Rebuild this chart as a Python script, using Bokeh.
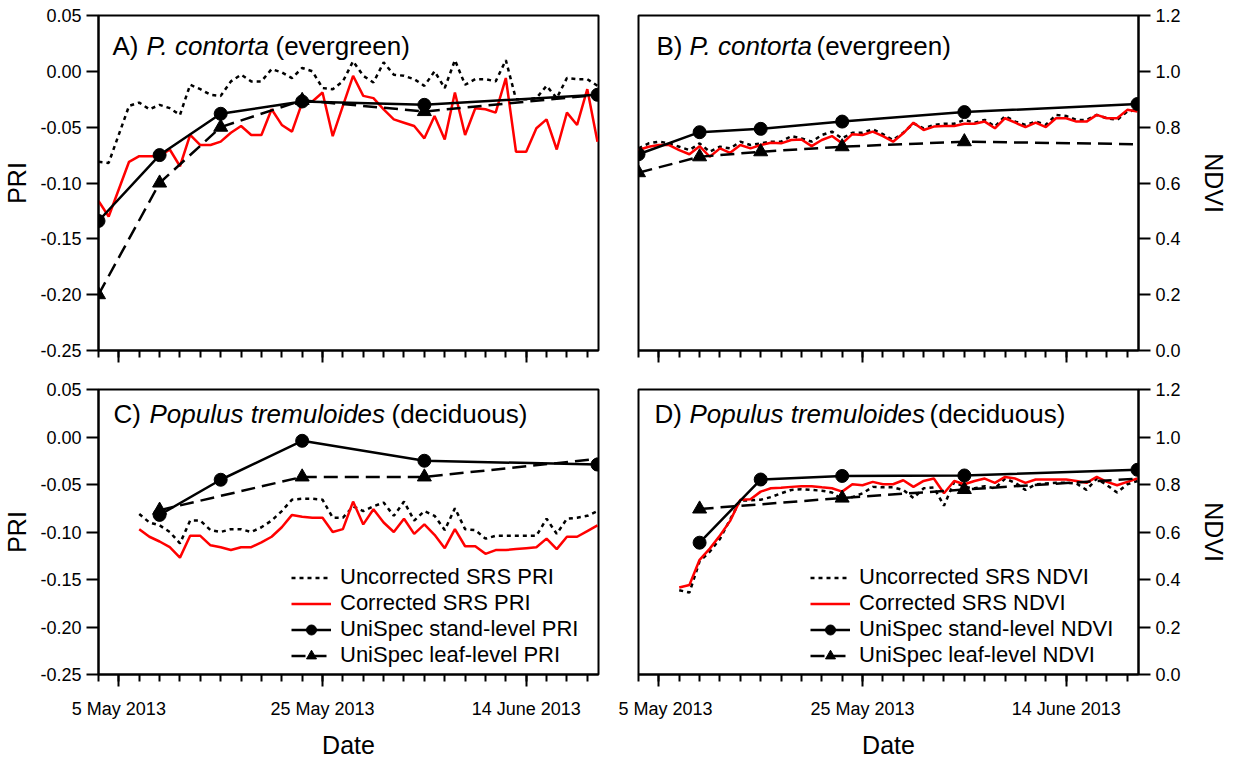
from bokeh.plotting import figure
from bokeh.models import (LinearAxis, FixedTicker, PrintfTickFormatter, Range1d,
                          Label, Legend, LegendItem)
from bokeh.layouts import column, row
from bokeh.embed import file_html
from bokeh.resources import INLINE

FONT = "Liberation Sans"

# ---------------- data (x = days after 3 May 2013) ----------------
TICK_DAYS = [2, 22, 42]
TICK_LABELS = ["5 May 2013", "25 May 2013", "14 June 2013"]
MINOR_DAYS = [0, 2, 4, 6, 8, 10, 12, 14, 16, 18, 20, 22, 24, 26, 28, 30, 32, 34,
              36, 38, 40, 42, 44, 46, 48]
PRI_TICKS = [-0.25, -0.20, -0.15, -0.10, -0.05, 0.00, 0.05]
NDVI_TICKS = [0.0, 0.2, 0.4, 0.6, 0.8, 1.0, 1.2]

# Panel A: P. contorta PRI
A_srs_days = [0, 1, 3, 4, 5, 6, 7, 8, 9, 10, 11, 12, 13, 14, 15, 16, 17, 18, 19, 20,
              21, 22, 23, 24, 25, 26, 27, 28, 29, 30, 31, 32, 33, 34, 35, 36, 37, 38,
              39, 40, 41, 42, 43, 44, 45, 46, 47, 48, 49]
A_uncorr = [-0.081, -0.082, -0.031, -0.028, -0.034, -0.030, -0.033, -0.039, -0.012,
            -0.016, -0.021, -0.022, -0.009, -0.003, -0.009, -0.009, 0.002, -0.001,
            -0.006, 0.003, 0.000, -0.015, -0.016, -0.009, 0.009, -0.004, -0.010,
            0.008, -0.003, -0.004, -0.007, -0.013, 0.000, -0.015, 0.010, -0.012,
            -0.007, -0.007, -0.009, 0.010, -0.025, -0.025, -0.024, -0.013, -0.024,
            -0.006, -0.007, -0.007, -0.013]
A_corr = [-0.116, -0.130, -0.081, -0.076, -0.076, -0.076, -0.070, -0.085, -0.057,
          -0.066, -0.066, -0.063, -0.055, -0.049, -0.057, -0.057, -0.034, -0.048,
          -0.054, -0.028, -0.027, -0.019, -0.058, -0.031, -0.004, -0.022, -0.024,
          -0.034, -0.043, -0.046, -0.049, -0.060, -0.040, -0.061, -0.019, -0.057,
          -0.033, -0.034, -0.037, -0.006, -0.072, -0.072, -0.051, -0.043, -0.070,
          -0.037, -0.048, -0.016, -0.063]
A_stand_days = [0, 6, 12, 20, 32, 49]
A_stand = [-0.134, -0.075, -0.038, -0.027, -0.030, -0.021]
A_leaf_days = [0, 6, 12, 20, 32, 49]
A_leaf = [-0.200, -0.100, -0.050, -0.026, -0.036, -0.021]

# Panel B: P. contorta NDVI
B_srs_days = [0, 1, 2, 3, 4, 5, 6, 7, 8, 9, 10, 11, 12, 13, 14, 15, 16, 17, 18, 19,
              20, 21, 22, 23, 24, 25, 26, 27, 28, 29, 30, 31, 32, 33, 34, 35, 36, 37,
              38, 39, 40, 41, 42, 43, 44, 45, 46, 47, 48, 49]
B_uncorr = [0.724, 0.742, 0.748, 0.742, 0.730, 0.718, 0.742, 0.712, 0.730, 0.724,
            0.748, 0.736, 0.742, 0.748, 0.748, 0.768, 0.760, 0.748, 0.772, 0.784,
            0.760, 0.780, 0.780, 0.792, 0.775, 0.754, 0.780, 0.814, 0.796, 0.808,
            0.812, 0.812, 0.826, 0.816, 0.826, 0.802, 0.840, 0.820, 0.808, 0.820,
            0.808, 0.844, 0.840, 0.826, 0.826, 0.844, 0.832, 0.826, 0.856, 0.862]
B_corr = [0.718, 0.730, 0.736, 0.736, 0.718, 0.703, 0.732, 0.694, 0.724, 0.708,
          0.736, 0.724, 0.736, 0.744, 0.742, 0.754, 0.756, 0.732, 0.754, 0.768,
          0.742, 0.775, 0.772, 0.784, 0.768, 0.748, 0.778, 0.816, 0.790, 0.802,
          0.804, 0.804, 0.812, 0.812, 0.820, 0.796, 0.832, 0.816, 0.800, 0.816,
          0.800, 0.832, 0.832, 0.820, 0.820, 0.844, 0.832, 0.832, 0.862, 0.856]
B_stand_days = [0, 6, 12, 20, 32, 49]
B_stand = [0.703, 0.782, 0.794, 0.820, 0.854, 0.883]
B_leaf_days = [0, 6, 12, 20, 32, 49]
B_leaf = [0.637, 0.694, 0.712, 0.730, 0.748, 0.739]

# Panel C: Populus tremuloides PRI
C_srs_days = [4, 5, 6, 7, 8, 9, 10, 11, 12, 13, 14, 15, 16, 17, 18, 19, 20, 21, 22,
              23, 24, 25, 26, 27, 28, 29, 30, 31, 32, 33, 34, 35, 36, 37, 38, 39, 40,
              41, 42, 43, 44, 45, 46, 47, 48, 49]
C_uncorr = [-0.081, -0.090, -0.093, -0.100, -0.112, -0.088, -0.088, -0.098, -0.100,
            -0.097, -0.097, -0.100, -0.095, -0.088, -0.078, -0.066, -0.065, -0.065,
            -0.066, -0.085, -0.085, -0.073, -0.078, -0.073, -0.069, -0.083, -0.068,
            -0.088, -0.078, -0.083, -0.098, -0.075, -0.097, -0.098, -0.107, -0.104,
            -0.104, -0.104, -0.104, -0.104, -0.086, -0.102, -0.086, -0.085, -0.083,
            -0.078]
C_corr = [-0.097, -0.105, -0.110, -0.116, -0.127, -0.104, -0.104, -0.114, -0.116,
          -0.119, -0.116, -0.116, -0.111, -0.105, -0.095, -0.082, -0.084, -0.085,
          -0.085, -0.100, -0.097, -0.068, -0.092, -0.076, -0.090, -0.100, -0.086,
          -0.102, -0.092, -0.103, -0.117, -0.097, -0.115, -0.115, -0.123, -0.119,
          -0.119, -0.118, -0.117, -0.116, -0.107, -0.118, -0.105, -0.105, -0.099,
          -0.093]
C_stand_days = [6, 12, 20, 32, 49]
C_stand = [-0.082, -0.045, -0.004, -0.025, -0.029]
C_leaf_days = [6, 20, 32, 49]
C_leaf = [-0.077, -0.042, -0.042, -0.023]

# Panel D: Populus tremuloides NDVI
D_srs_days = C_srs_days
D_uncorr = [0.355, 0.345, 0.476, 0.517, 0.571, 0.653, 0.733, 0.733, 0.736, 0.747,
            0.763, 0.777, 0.780, 0.777, 0.774, 0.766, 0.738, 0.747, 0.763, 0.790,
            0.788, 0.788, 0.777, 0.743, 0.784, 0.788, 0.711, 0.811, 0.790, 0.784,
            0.793, 0.784, 0.825, 0.807, 0.777, 0.801, 0.804, 0.807, 0.807, 0.804,
            0.777, 0.825, 0.797, 0.766, 0.801, 0.815]
D_corr = [0.366, 0.377, 0.483, 0.530, 0.585, 0.647, 0.736, 0.738, 0.770, 0.784,
          0.786, 0.790, 0.793, 0.793, 0.788, 0.784, 0.770, 0.801, 0.797, 0.811,
          0.801, 0.801, 0.818, 0.790, 0.815, 0.825, 0.763, 0.815, 0.801, 0.815,
          0.825, 0.807, 0.832, 0.825, 0.807, 0.821, 0.821, 0.821, 0.821, 0.815,
          0.807, 0.832, 0.811, 0.797, 0.811, 0.825]
D_stand_days = [6, 12, 20, 32, 49]
D_stand = [0.555, 0.821, 0.836, 0.838, 0.862]
D_leaf_days = [6, 20, 32, 49]
D_leaf = [0.697, 0.743, 0.779, 0.825]

# ---------------- styling helpers ----------------
LW = 2.5
X_RANGE = (0, 49.1)


def make_fig(width, height, left, right, top, bottom, yr):
    p = figure(width=width, height=height, x_range=Range1d(*X_RANGE),
               y_range=Range1d(*yr), x_axis_location=None, y_axis_location=None,
               toolbar_location=None, output_backend="svg",
               min_border_left=left, min_border_right=right,
               min_border_top=top, min_border_bottom=bottom)
    p.grid.visible = False
    p.outline_line_color = "black"
    p.outline_line_width = 2
    p.outline_line_alpha = 1.0
    p.background_fill_color = "white"
    p.border_fill_color = "white"
    return p


def style_axis(ax):
    ax.axis_line_width = 2
    ax.axis_line_color = "black"
    ax.major_tick_line_width = 2
    ax.minor_tick_line_width = 2
    ax.major_tick_in = 0
    ax.minor_tick_in = 0
    ax.major_label_text_font = FONT
    ax.major_label_text_font_size = "18px"
    ax.major_label_text_color = "black"
    ax.axis_label_text_font = FONT
    ax.axis_label_text_font_size = "25px"
    ax.axis_label_text_font_style = "normal"
    ax.axis_label_text_color = "black"


def add_x_axis(p, with_labels):
    ax = LinearAxis(ticker=FixedTicker(ticks=TICK_DAYS, minor_ticks=MINOR_DAYS))
    style_axis(ax)
    ax.major_tick_out = 12
    ax.minor_tick_out = 7
    if with_labels:
        ax.major_label_overrides = {d: l for d, l in zip(TICK_DAYS, TICK_LABELS)}
        ax.major_label_standoff = 12
        ax.axis_label = "Date"
        ax.axis_label_standoff = 9
    else:
        ax.major_label_overrides = {d: "" for d in TICK_DAYS}
        ax.major_label_standoff = 0
    p.add_layout(ax, "below")


def add_y_axis(p, side, ticks, fmt, label):
    ax = LinearAxis(ticker=FixedTicker(ticks=ticks, minor_ticks=[]),
                    formatter=PrintfTickFormatter(format=fmt), axis_label=label)
    style_axis(ax)
    ax.major_tick_out = 12
    ax.minor_tick_line_color = None
    ax.major_label_standoff = 5
    ax.axis_label_standoff = 6 if side == "left" else 16
    p.add_layout(ax, side)


def add_title(p, parts, xs, y):
    for (txt, style), x in zip(parts, xs):
        p.add_layout(Label(x=x, y=y, x_units="screen", y_units="screen", text=txt,
                           text_font=FONT, text_font_size="26px",
                           text_font_style=style, text_color="black",
                           text_baseline="alphabetic"))


def draw_series(p, srs_days, uncorr, corr, st_days, stand, lf_days, leaf):
    r_unc = p.line(srs_days, uncorr, line_color="black", line_width=LW,
                   line_dash="4 4")
    r_cor = p.line(srs_days, corr, line_color="#ff0000", line_width=LW)
    r_lfl = p.line(lf_days, leaf, line_color="black", line_width=LW,
                   line_dash="14 7")
    # leaf-level markers at the measurement dates (the line runs on to season end)
    r_lfm = p.scatter(lf_days[:-1], leaf[:-1], marker="triangle", size=14,
                      fill_color="black", line_color="black")
    r_stl = p.line(st_days, stand, line_color="black", line_width=LW)
    r_stm = p.scatter(st_days, stand, marker="circle", size=13,
                      fill_color="black", line_color="black")
    return r_unc, r_cor, (r_stl, r_stm), (r_lfl, r_lfm)


def add_legend(p, rends, names, x, y):
    r_unc, r_cor, st, lf = rends
    items = [LegendItem(label=names[0], renderers=[r_unc]),
             LegendItem(label=names[1], renderers=[r_cor]),
             LegendItem(label=names[2], renderers=list(st)),
             LegendItem(label=names[3], renderers=list(lf))]
    lg = Legend(items=items, location=(x, y), orientation="vertical",
                label_text_font=FONT, label_text_font_size="22px",
                label_text_color="black", glyph_width=40, glyph_height=25,
                label_height=25, spacing=0, padding=0, margin=0,
                label_standoff=9, border_line_color=None,
                background_fill_alpha=0)
    p.add_layout(lg)


# ---------------- panels ----------------
TOP_H, BOT_H = 380, 381
LEFT_W, RIGHT_W = 618, 621

pA = make_fig(LEFT_W, TOP_H, 97, 20, 15, 30, (-0.25, 0.05))
add_y_axis(pA, "left", PRI_TICKS, "%.2f", "PRI")
add_x_axis(pA, False)
draw_series(pA, A_srs_days, A_uncorr, A_corr, A_stand_days, A_stand,
            A_leaf_days, A_leaf)
add_title(pA, [("A)", "normal"), ("P. contorta", "italic"), ("(evergreen)", "normal")],
          [14, 48, 177], 305)

pB = make_fig(RIGHT_W, TOP_H, 20, 101, 15, 30, (0.0, 1.2))
add_y_axis(pB, "right", NDVI_TICKS, "%.1f", "NDVI")
add_x_axis(pB, False)
draw_series(pB, B_srs_days, B_uncorr, B_corr, B_stand_days, B_stand,
            B_leaf_days, B_leaf)
add_title(pB, [("B)", "normal"), ("P. contorta", "italic"), ("(evergreen)", "normal")],
          [18, 51, 178], 305)

pC = make_fig(LEFT_W, BOT_H, 97, 20, 9, 80, (-0.25, 0.05))
add_y_axis(pC, "left", PRI_TICKS, "%.2f", "PRI")
add_x_axis(pC, True)
rc = draw_series(pC, C_srs_days, C_uncorr, C_corr, C_stand_days, C_stand,
                 C_leaf_days, C_leaf)
add_title(pC, [("C)", "normal"), ("Populus tremuloides", "italic"),
               ("(deciduous)", "normal")], [15, 51, 293], 261)
add_legend(pC, rc, ["Uncorrected SRS PRI", "Corrected SRS PRI",
                    "UniSpec stand-level PRI", "UniSpec leaf-level PRI"], 193, 6)

pD = make_fig(RIGHT_W, BOT_H, 20, 101, 9, 80, (0.0, 1.2))
add_y_axis(pD, "right", NDVI_TICKS, "%.1f", "NDVI")
add_x_axis(pD, True)
rd = draw_series(pD, D_srs_days, D_uncorr, D_corr, D_stand_days, D_stand,
                 D_leaf_days, D_leaf)
add_title(pD, [("D)", "normal"), ("Populus tremuloides", "italic"),
               ("(deciduous)", "normal")], [16, 51, 291], 261)
add_legend(pD, rd, ["Uncorrected SRS NDVI", "Corrected SRS NDVI",
                    "UniSpec stand-level NDVI", "UniSpec leaf-level NDVI"], 172, 6)

layout = column(row(pA, pB), row(pC, pD))
open("out.html", "w").write(file_html(layout, INLINE))
